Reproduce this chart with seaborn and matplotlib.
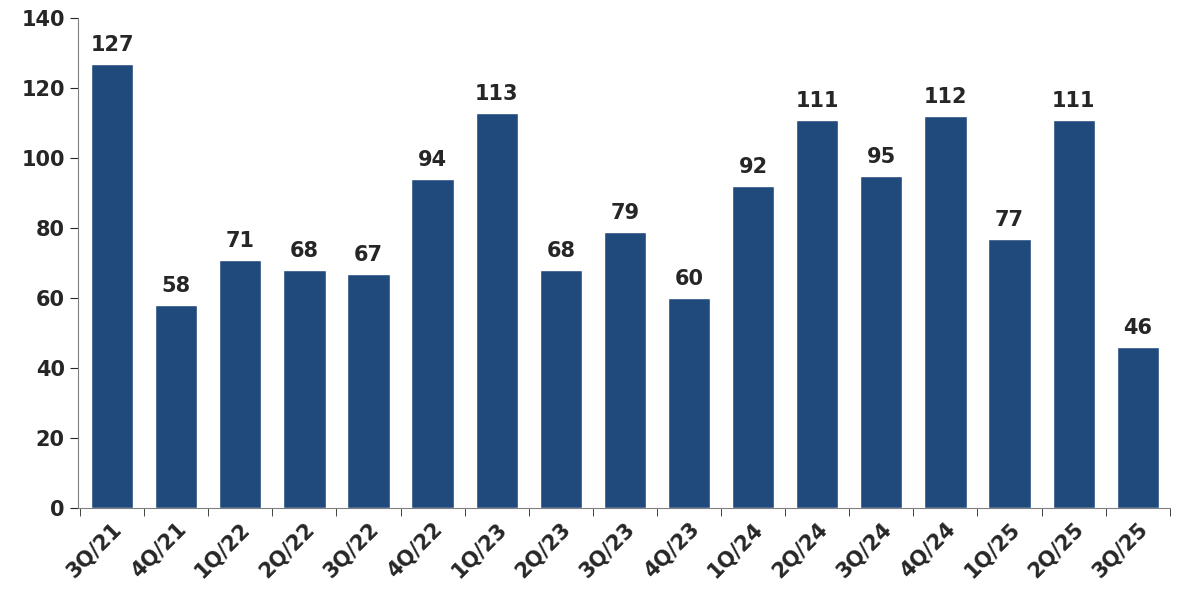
import matplotlib
matplotlib.use("Agg")
import matplotlib.pyplot as plt
import seaborn as sns
import numpy as np
import pandas as pd

categories = ["3Q/21","4Q/21","1Q/22","2Q/22","3Q/22","4Q/22","1Q/23","2Q/23","3Q/23","4Q/23",
              "1Q/24","2Q/24","3Q/24","4Q/24","1Q/25","2Q/25","3Q/25"]
values = [127,58,71,68,67,94,113,68,79,60,92,111,95,112,77,111,46]

sns.set_style("white")
plt.rcParams['font.family'] = ['DejaVu Sans']

fig = plt.figure(figsize=(11.88, 6.13), dpi=100)
ax = fig.add_axes([0.0657, 0.1713, 0.919, 0.799])
df = pd.DataFrame({"cat": categories, "val": values})
sns.barplot(data=df, x="cat", y="val", color="#214A7C", saturation=1, width=0.66, ax=ax)

for i, v in enumerate(values):
    ax.text(i, v + 2.5, str(v), ha="center", va="bottom", fontsize=15, fontweight="bold")

ax.set_ylim(0, 140)
ax.set_xlim(-0.53, 16.5)
ax.set_yticks(range(0, 141, 20))
ax.set_yticklabels([str(t) for t in range(0, 141, 20)], fontsize=15, fontweight="bold")
ax.set_xticks(range(len(categories)))
ax.set_xticklabels(categories, rotation=45, ha="right", rotation_mode="anchor",
                   fontsize=15, fontweight="bold")
ax.set_xticks(np.arange(-0.5, 16.6, 1), minor=True)
ax.tick_params(axis="x", which="major", length=0, pad=8)
ax.tick_params(axis="x", which="minor", length=6, direction="out", bottom=True)
ax.tick_params(axis="y", length=6, direction="out", left=True)
ax.set_xlabel("")
ax.set_ylabel("")
for s in ["top", "right"]:
    ax.spines[s].set_visible(False)
for s in ["left", "bottom"]:
    ax.spines[s].set_color("#808080")
fig.savefig("out.png", dpi=100)
